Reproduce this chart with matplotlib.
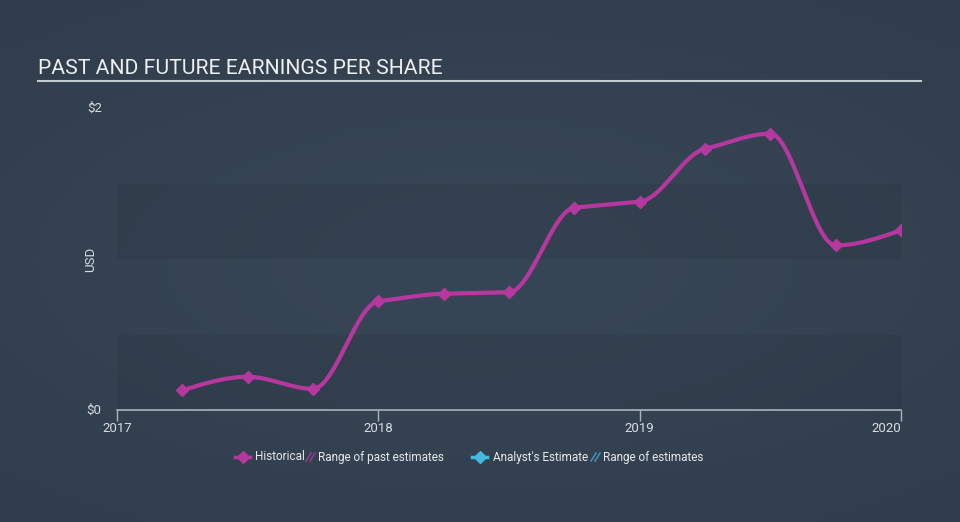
import numpy as np
import matplotlib.pyplot as plt
from matplotlib.lines import Line2D
from matplotlib.patches import Rectangle

# EPS data (fractional year, USD)
dates = [2017.25, 2017.5, 2017.75, 2018.0, 2018.25, 2018.5,
         2018.75, 2019.0, 2019.25, 2019.5, 2019.75, 2020.0]
eps = [0.13, 0.22, 0.14, 0.72, 0.77, 0.78,
       1.34, 1.38, 1.73, 1.83, 1.09, 1.19]
year_ticks = [2017, 2018, 2019, 2020]
y_ticks = [0, 2]
y_labels = ['$0', '$2']

plt.rcParams['font.family'] = ['Roboto', 'DejaVu Sans']


def monotone(x, y, n=30):
    # monotone cubic (like d3 curveMonotoneX)
    x = np.asarray(x, float)
    y = np.asarray(y, float)
    h = np.diff(x)
    d = np.diff(y) / h
    m = np.zeros_like(y)
    for i in range(1, len(y) - 1):
        if d[i - 1] * d[i] <= 0:
            m[i] = 0
        else:
            p = (d[i - 1] * h[i] + d[i] * h[i - 1]) / (h[i - 1] + h[i])
            m[i] = np.sign(d[i]) * min(abs(d[i - 1]), abs(d[i]), 0.5 * abs(p))
    m[0] = (3 * d[0] - m[1]) / 2
    m[-1] = (3 * d[-1] - m[-2]) / 2
    xs, ys = [], []
    for i in range(len(h)):
        t = np.linspace(0, 1, n)
        h00 = 2 * t**3 - 3 * t**2 + 1
        h10 = t**3 - 2 * t**2 + t
        h01 = -2 * t**3 + 3 * t**2
        h11 = t**3 - t**2
        xs.extend(x[i] + t * h[i])
        ys.extend(h00 * y[i] + h10 * h[i] * m[i] + h01 * y[i + 1] + h11 * h[i] * m[i + 1])
    return np.array(xs), np.array(ys)


bg = '#333f4f'
fig = plt.figure(figsize=(9.6, 5.22), dpi=100, facecolor=bg)

# subtle gradient background, lighter in the middle
bgax = fig.add_axes([0, 0, 1, 1], zorder=-10)
gx, gy = np.meshgrid(np.linspace(-1, 1, 200), np.linspace(-1, 1, 120))
g = np.exp(-(gx**2 * 0.8 + gy**2 * 1.2))
c0 = np.array([0x30, 0x3c, 0x4b]) / 255
c1 = np.array([0x37, 0x46, 0x56]) / 255
img = c0 + (c1 - c0) * g[..., None]
bgax.imshow(img, aspect='auto', extent=[0, 1, 0, 1])
bgax.axis('off')

ax = fig.add_axes([117 / 960, 112 / 522, 784 / 960, 302 / 522])
ax.set_facecolor('none')
ax.set_xlim(2017, 2020)
ax.set_ylim(0, 2)

# darker bands
for lo, hi in [(0, 0.5), (1.0, 1.5)]:
    ax.add_patch(Rectangle((2017, lo), 3, hi - lo, facecolor='#2a3542',
                           alpha=0.3, edgecolor='none', zorder=0))

sx, sy = monotone(dates, eps)
ax.plot(sx, sy, color='#b6389f', lw=3, zorder=3, solid_capstyle='round')
ax.plot(dates, eps, ls='none', marker='D', ms=6.5, color='#b6389f', zorder=4)

for s in ['top', 'right', 'left']:
    ax.spines[s].set_visible(False)
ax.spines['bottom'].set_color('#a9b4c0')
ax.spines['bottom'].set_linewidth(1.2)

ax.set_xticks(year_ticks)
ax.set_xticklabels([str(y) for y in year_ticks])
ax.tick_params(axis='x', colors='#a9b4c0', length=8, width=1, labelcolor='#d8dde3',
               labelsize=9.5, pad=1)
ax.get_xticklabels()[-1].set_ha('right')
ax.set_yticks(y_ticks)
ax.set_yticklabels(y_labels)
ax.tick_params(axis='y', length=0, labelcolor='#d8dde3', labelsize=9.5, pad=11)
for lab in ax.get_yticklabels():
    lab.set_va('center')
ax.yaxis.set_label_coords(-20 / 784, 0.5)
ax.set_ylabel('USD', color='#d8dde3', fontsize=9.5)

# title and rule
fig.text(38 / 960, 1 - 68 / 522, 'PAST AND FUTURE EARNINGS PER SHARE', color='#eef0f2',
         fontsize=15.2, va='center', ha='left')
fig.add_artist(Line2D([38 / 960, 921 / 960], [1 - 81 / 522] * 2, color='#c4cad1', lw=1.5))

# legend
ly = 1 - 457 / 522


def hatch_icon(xc, color):
    for dx in (-2.5, 1.5):
        x0 = (xc + dx - 2.5) / 960
        x1 = (xc + dx + 2.5) / 960
        fig.add_artist(Line2D([x0, x1], [ly - 4 / 522, ly + 4 / 522], color=color, lw=1.2))


fig.add_artist(Line2D([235 / 960, 250 / 960], [ly, ly], color='#b6389f', lw=2.5))
fig.add_artist(Line2D([242.5 / 960], [ly], color='#b6389f', marker='D', ms=6, ls='none'))
fig.text(255 / 960, ly, 'Historical', color='#e6e9ed', fontsize=8.5, va='center')
hatch_icon(311, '#8f3d86')
fig.text(318 / 960, ly, 'Range of past estimates', color='#e6e9ed', fontsize=8.5, va='center')
fig.add_artist(Line2D([472 / 960, 487 / 960], [ly, ly], color='#45b8e0', lw=2.5))
fig.add_artist(Line2D([479.5 / 960], [ly], color='#45b8e0', marker='D', ms=6, ls='none'))
fig.text(493 / 960, ly, "Analyst's Estimate", color='#e6e9ed', fontsize=8.5, va='center')
hatch_icon(596, '#3f8fb0')
fig.text(603 / 960, ly, 'Range of estimates', color='#e6e9ed', fontsize=8.5, va='center')

fig.savefig('out.png', dpi=100, facecolor=bg)
